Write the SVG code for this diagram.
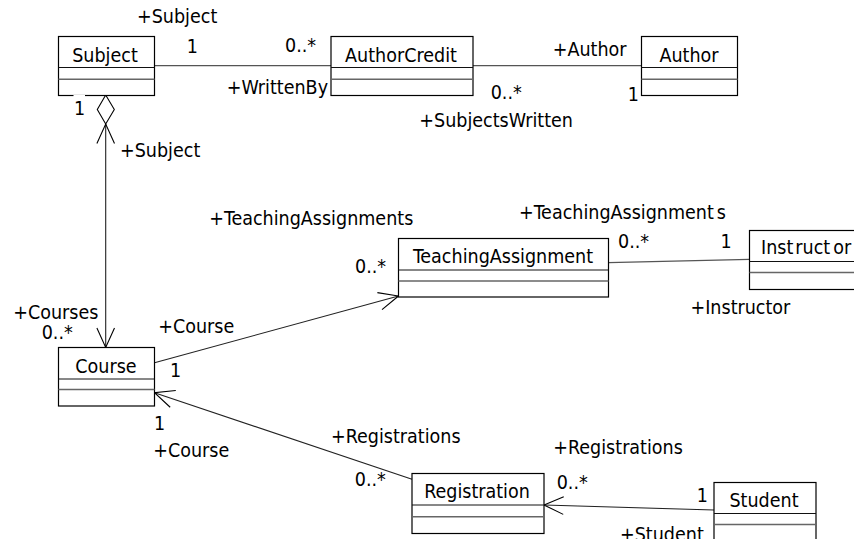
<svg xmlns="http://www.w3.org/2000/svg" width="854" height="539" viewBox="0 0 854 539">
  <style>
    text { font-family: "DejaVu Sans Condensed", "DejaVu Sans", sans-serif; font-stretch: condensed; font-size: 19.5px; fill: #000; }
    .title { text-anchor: middle; }
    .box { fill: #fff; stroke: #000; stroke-width: 1.2; }
    .sep1 { stroke: #111; stroke-width: 1; }
    .sep2 { stroke: #666; stroke-width: 1.5; }
    .assoc { fill: none; stroke: #222; stroke-width: 1.1; }
    .flat { fill: none; stroke: #555; stroke-width: 1.3; }
  </style>
  <defs>
    <marker id="open" viewBox="-22 -11 24 22" refX="0" refY="0" markerWidth="24" markerHeight="22" markerUnits="userSpaceOnUse" orient="auto-start-reverse">
      <path d="M-19.5,-8.8 L0,0 L-19.5,8.8" fill="none" stroke="#000" stroke-width="1.1"/>
    </marker>
  </defs>
  <rect width="854" height="539" fill="#fff"/>

  <!-- associations -->
  <g id="connectors">
    <line class="flat" x1="154.5" y1="65.7" x2="331" y2="65.7"/>
    <line class="flat" x1="473" y1="65.7" x2="641.5" y2="65.7"/>
    <line class="assoc" x1="105.7" y1="124" x2="105.7" y2="347.5" marker-start="url(#open)" marker-end="url(#open)"/>
    <polygon points="105.7,95 97.3,109.5 105.7,124 114.3,109.5" fill="#fff" stroke="#000" stroke-width="1.1"/>
    <line class="assoc" x1="154.5" y1="362.7" x2="398.5" y2="296" marker-end="url(#open)"/>
    <line class="flat" x1="608.5" y1="262.7" x2="749.5" y2="259.3"/>
    <line class="assoc" x1="412" y1="479.3" x2="154.5" y2="392.7" marker-end="url(#open)"/>
    <line class="assoc" x1="714" y1="510" x2="544" y2="505" marker-end="url(#open)"/>
  </g>

  <g id="Subject">
    <rect class="box" x="58.5" y="36.5" width="96" height="59"/>
    <line class="sep1" x1="58.5" y1="67.5" x2="154.5" y2="67.5"/>
    <line class="sep2" x1="58.5" y1="79.2" x2="154.5" y2="79.2"/>
    <text class="title" x="105" y="62">Subject</text>
  </g>

  <g id="AuthorCredit">
    <rect class="box" x="331" y="36.5" width="142" height="59"/>
    <line class="sep1" x1="331" y1="67.5" x2="473" y2="67.5"/>
    <line class="sep2" x1="331" y1="79.2" x2="473" y2="79.2"/>
    <text class="title" x="401" y="62">AuthorCredit</text>
  </g>

  <g id="Author">
    <rect class="box" x="641.5" y="36.5" width="96" height="59"/>
    <line class="sep1" x1="641.5" y1="67.5" x2="737.5" y2="67.5"/>
    <line class="sep2" x1="641.5" y1="79.2" x2="737.5" y2="79.2"/>
    <text class="title" x="689" y="62">Author</text>
  </g>

  <g id="Course">
    <rect class="box" x="58.5" y="347.5" width="96" height="58.5"/>
    <line class="sep1" x1="58.5" y1="379" x2="154.5" y2="379"/>
    <line class="sep2" x1="58.5" y1="389.5" x2="154.5" y2="389.5"/>
    <text class="title" x="106" y="372.5">Course</text>
  </g>

  <g id="TeachingAssignment">
    <rect class="box" x="398.5" y="238.5" width="210" height="58.5"/>
    <line class="sep1" x1="398.5" y1="270" x2="608.5" y2="270"/>
    <line class="sep2" x1="398.5" y1="281" x2="608.5" y2="281"/>
    <text class="title" x="503" y="262.7">TeachingAssignment</text>
  </g>

  <g id="Instructor">
    <rect class="box" x="749.5" y="230.5" width="120" height="59"/>
    <line class="sep1" x1="749.5" y1="261.5" x2="869.5" y2="261.5"/>
    <line class="sep2" x1="749.5" y1="272.5" x2="869.5" y2="272.5"/>
    <text x="761" y="254.3">Inst<tspan dx="2">ruct</tspan><tspan dx="3">or</tspan></text>
  </g>

  <g id="Registration">
    <rect class="box" x="412" y="473.5" width="132" height="60"/>
    <line class="sep1" x1="412" y1="505" x2="544" y2="505"/>
    <line class="sep2" x1="412" y1="516.7" x2="544" y2="516.7"/>
    <text class="title" x="477" y="498.3">Registration</text>
  </g>

  <g id="Student">
    <rect class="box" x="714" y="482.5" width="102" height="70"/>
    <line class="sep1" x1="714" y1="513.5" x2="816" y2="513.5"/>
    <line class="sep2" x1="714" y1="524.5" x2="816" y2="524.5"/>
    <text class="title" x="764" y="507.3">Student</text>
  </g>

  <!-- role names and multiplicities -->
  <g id="labels">
    <text x="137" y="23">+Subject</text>
    <text x="186.7" y="52.7">1</text>
    <text x="285" y="51.5">0..*</text>
    <text x="226.7" y="94">+WrittenBy</text>
    <text x="552.7" y="56">+Author</text>
    <text x="490.7" y="99">0..*</text>
    <text x="627.7" y="101">1</text>
    <text x="419.3" y="127">+SubjectsWritten</text>
    <rect x="73.5" y="95" width="11.5" height="3" fill="#fff"/>
    <text x="74" y="115">1</text>
    <text x="120" y="157">+Subject</text>
    <text x="209.3" y="224.5">+TeachingAssignments</text>
    <text x="519" y="219">+TeachingAssignment<tspan dx="3">s</tspan></text>
    <text x="355" y="273.3">0..*</text>
    <text x="618" y="248">0..*</text>
    <text x="720.5" y="248">1</text>
    <text x="690.5" y="314">+Instructor</text>
    <text x="13.3" y="319">+Courses</text>
    <text x="41.7" y="339.3">0..*</text>
    <text x="158.3" y="333">+Course</text>
    <text x="170" y="377">1</text>
    <text x="154" y="430">1</text>
    <text x="153.3" y="457">+Course</text>
    <text x="331" y="443.3">+Registrations</text>
    <text x="553.3" y="454">+Registrations</text>
    <text x="354.8" y="486">0..*</text>
    <text x="556.7" y="489.3">0..*</text>
    <text x="696.7" y="501.7">1</text>
    <text x="620" y="541">+Student</text>
  </g>
</svg>
